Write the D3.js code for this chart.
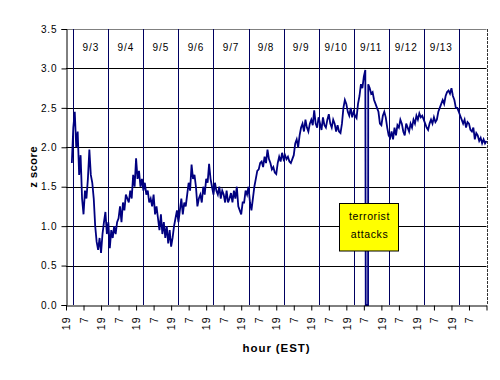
<!DOCTYPE html>
<html><head><meta charset="utf-8">
<script src="https://cdn.jsdelivr.net/npm/d3@7"></script>
<style>
body{margin:0;background:#fff;}
svg{display:block;font-family:"Liberation Sans",Arial,sans-serif;}
</style></head>
<body>
<svg id="chart" width="500" height="380"></svg>
<script>
// hourly z-score readings, starting 9/2 23:00 EST (hour 4 after 9/2 19:00)
// null = feed outage (drawn as a drop to zero)
const startHour = 4;
const zValues = [
1.80,2.25, 2.45,2.00, 2.20,1.65, 1.90,1.35, 1.15,1.45, 1.35,1.60, 1.97,1.65, 1.55,1.35,
1.00,0.80, 0.70,0.85, 0.66,0.90, 1.05,1.18, 0.90,1.05, 0.72,0.95, 0.85,1.00, 0.90,1.05,
1.10,1.25, 1.05,1.30, 1.20,1.40, 1.35,1.30, 1.45,1.35, 1.65,1.50, 1.86,1.60, 1.70,1.50,
1.60,1.45, 1.55,1.40, 1.45,1.30, 1.35,1.25, 1.40,1.15, 1.25,1.10, 0.95,1.15, 0.90,1.05,
0.85,1.00, 0.78,0.95, 0.74,0.85, 1.00,1.10, 1.20,1.05, 1.20,1.35, 1.15,1.30, 1.25,1.40,
1.55,1.45, 1.78,1.60, 1.65,1.50, 1.25,1.35, 1.40,1.30, 1.50,1.40, 1.60,1.55, 1.79,1.60,
1.50,1.40, 1.55,1.45, 1.40,1.50, 1.35,1.45, 1.40,1.30, 1.45,1.30, 1.35,1.42, 1.30,1.45,
1.35,1.50, 1.25,1.20, 1.15,1.30, 1.30,1.45, 1.40,1.50, 1.30,1.20, 1.35,1.50, 1.60,1.70,
1.72,1.80, 1.82,1.75, 1.88,1.80, 1.97,1.85, 1.80,1.72, 1.75,1.68, 1.66,1.80, 1.88,1.82,
1.93,1.85, 1.90,1.85, 1.88,1.82, 1.80,1.85, 1.90,2.05, 2.10,2.00, 2.15,2.25, 2.30,2.20,
2.35,2.25, 2.20,2.30, 2.35,2.28, 2.47,2.30, 2.25,2.38, 2.30,2.22, 2.38,2.28, 2.25,2.35,
2.42,2.30, 2.25,2.35, 2.30,2.20, 2.28,2.20, 2.18,2.30, 2.50,2.60, 2.55,2.45, 2.40,2.50,
2.38,2.45, 2.40,2.37, 2.55,2.65, 2.80,2.75, 2.90,2.98, null,2.80, 2.75,2.68, 2.70,2.60,
2.55,2.50, 2.45,2.30, 2.28,2.40, 2.45,2.38, 2.25,2.15, 2.12,2.20, 2.10,2.25, 2.15,2.28,
2.25,2.35, 2.30,2.20, 2.15,2.30, 2.25,2.20, 2.30,2.25, 2.35,2.30, 2.40,2.35, 2.43,2.38,
2.40,2.35, 2.30,2.25, 2.22,2.30, 2.35,2.30, 2.38,2.32, 2.35,2.45, 2.50,2.55, 2.60,2.55,
2.65,2.70, 2.72,2.68, 2.75,2.65, 2.60,2.50, 2.50,2.45, 2.40,2.35, 2.30,2.35, 2.25,2.32,
2.30,2.22, 2.20,2.25, 2.10,2.18, 2.15,2.08, 2.12,2.05, 2.10,2.05, 2.08
];
// outage window (hours after 9/2 19:00) during which the series reads zero
const outageHours = [205.3, 206.9];
const dayLabels = ["9/3","9/4","9/5","9/6","9/7","9/8","9/9","9/10","9/11","9/12","9/13"];
const hourTickLabels = ["19","7"];
const yTicks = [0,0.5,1,1.5,2,2.5,3,3.5];
const totalHours = 288;
const firstMidnight = 5;
const attackLabel = ["terrorist","attacks"];

const svg = d3.select("#chart");
const L = 66, R = 486.5, T = 29, B = 305;
const x = d3.scaleLinear().domain([0, totalHours]).range([L, R]);
const y = d3.scaleLinear().domain([0, 3.5]).range([B, T]);

// horizontal gridlines
svg.append("g").selectAll("line").data(yTicks.filter(d => d > 0 && d < 3.5)).join("line")
  .attr("x1", L).attr("x2", R).attr("y1", d => Math.round(y(d)) + 0.5).attr("y2", d => Math.round(y(d)) + 0.5)
  .attr("stroke", "#000").attr("stroke-width", 1);

// top border
svg.append("line").attr("x1", L).attr("x2", R).attr("y1", T + 0.5).attr("y2", T + 0.5)
  .attr("stroke", "#808080");
// right border dashed
svg.append("line").attr("x1", Math.round(R) + 0.5).attr("x2", Math.round(R) + 0.5).attr("y1", T).attr("y2", B)
  .attr("stroke", "#333").attr("stroke-dasharray", "3,1");

// day separator lines at midnight
const midnights = d3.range(0, 12).map(k => firstMidnight + 24 * k);
svg.append("g").selectAll("line").data(midnights).join("line")
  .attr("x1", d => Math.round(x(d)) + 0.5).attr("x2", d => Math.round(x(d)) + 0.5)
  .attr("y1", T).attr("y2", B)
  .attr("stroke", "#000060").attr("stroke-width", 1);

// day labels
svg.append("g").selectAll("text").data(dayLabels).join("text")
  .attr("x", (d, i) => x(firstMidnight + 24 * i + 12))
  .attr("y", 51)
  .attr("text-anchor", "middle")
  .attr("font-size", "10px").attr("letter-spacing", "0.9px")
  .text(d => d);

// data line (with outage drop to zero)
const pts = [];
zValues.forEach((v, i) => {
  const t = startHour + i;
  if (t > outageHours[0] && pts.length && pts[pts.length - 1][0] < outageHours[0]) {
    pts.push([outageHours[0], 0], [outageHours[1], 0]);
  }
  if (v !== null) pts.push([t, v]);
});
svg.append("path").datum(pts)
  .attr("fill", "none").attr("stroke", "#000080").attr("stroke-width", 1.8)
  .attr("stroke-linejoin", "miter")
  .attr("d", d3.line().x(d => x(d[0])).y(d => y(d[1])));

// annotation box
const bx = 339.5, by = 203.5, bw = 59, bh = 47.5;
svg.append("rect").attr("x", bx).attr("y", by).attr("width", bw).attr("height", bh)
  .attr("fill", "#ffff00").attr("stroke", "#000").attr("stroke-width", 1);
svg.append("g").selectAll("text").data(attackLabel).join("text")
  .attr("x", bx + bw / 2 + 0.5).attr("y", (d, i) => 220 + i * 17.5)
  .attr("text-anchor", "middle").attr("font-size", "10.5px").attr("letter-spacing", "0.6px")
  .text(d => d);

// y axis
const yAxis = d3.axisLeft(y).tickValues(yTicks).tickFormat(d3.format(".1f")).tickSize(5).tickPadding(4);
const gy = svg.append("g").attr("transform", `translate(${L + 0.5},0)`).call(yAxis);
gy.select(".domain").attr("stroke", "#000");
gy.selectAll(".tick line").attr("stroke", "#000");
gy.selectAll("text").attr("font-size", "10px").attr("letter-spacing", "0.9px")
  .attr("font-family", "'Liberation Sans',Arial,sans-serif").attr("fill", "#000");

// x axis
const xTickVals = d3.range(0, totalHours + 1, 12);
const xAxis = d3.axisBottom(x).tickValues(xTickVals)
  .tickFormat((d, i) => d >= totalHours ? "" : hourTickLabels[i % 2])
  .tickSize(5).tickSizeOuter(0);
const gx = svg.append("g").attr("transform", `translate(0,${B + 0.5})`).call(xAxis);
gx.select(".domain").attr("stroke", "#000");
gx.selectAll(".tick line").attr("stroke", "#000");
gx.selectAll("text")
  .attr("font-size", "10.5px").attr("letter-spacing", "1px")
  .attr("font-family", "'Liberation Sans',Arial,sans-serif").attr("fill", "#000")
  .attr("text-anchor", "end")
  .attr("transform", "rotate(-90)")
  .attr("x", -11).attr("y", 0).attr("dy", "0.35em");

// axis titles
svg.append("text").attr("x", 276.5).attr("y", 352)
  .attr("text-anchor", "middle").attr("font-weight", "bold")
  .attr("font-size", "11.5px").attr("letter-spacing", "0.9px")
  .text("hour (EST)");
svg.append("text").attr("transform", `translate(37,167) rotate(-90)`)
  .attr("text-anchor", "middle").attr("font-weight", "bold")
  .attr("font-size", "11.5px").attr("letter-spacing", "0.3px")
  .text("z score");
</script>
</body></html>
